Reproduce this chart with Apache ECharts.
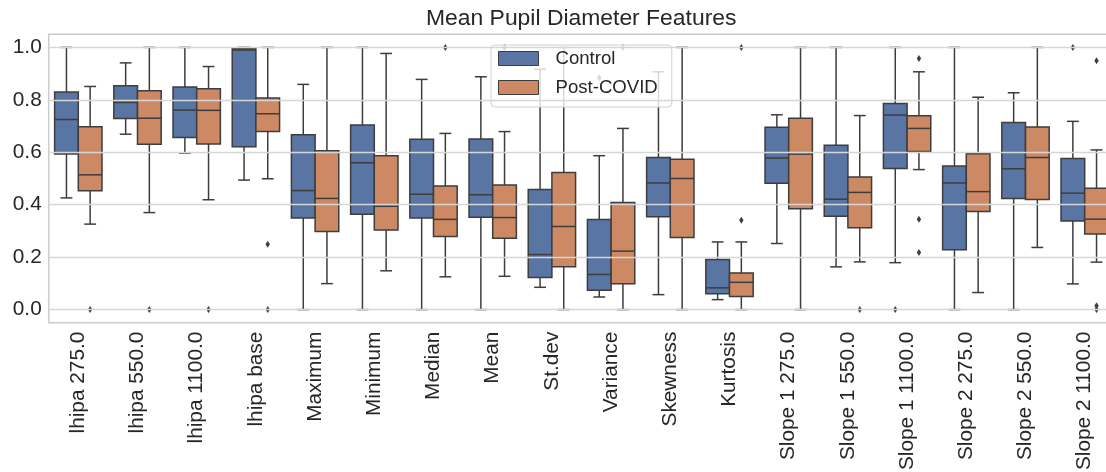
<!DOCTYPE html>
<html>
<head>
<meta charset="utf-8">
<script src="https://cdn.jsdelivr.net/npm/echarts@6/dist/echarts.min.js"></script>
<style>
  html, body { margin: 0; padding: 0; background: #ffffff; }
  #chart { width: 1106px; height: 472px; }
</style>
</head>
<body>
<div id="chart"></div>
<script>
// ---------- data ----------
const categories = [
  'lhipa 275.0', 'lhipa 550.0', 'lhipa 1100.0', 'lhipa base',
  'Maximum', 'Minimum', 'Median', 'Mean', 'St.dev', 'Variance',
  'Skewness', 'Kurtosis', 'Slope 1 275.0', 'Slope 1 550.0',
  'Slope 1 1100.0', 'Slope 2 275.0', 'Slope 2 550.0', 'Slope 2 1100.0'
];
// [lower whisker, Q1, median, Q3, upper whisker]
const controlStats = [
  [0.426, 0.593, 0.725, 0.830, 1.000],
  [0.669, 0.729, 0.790, 0.854, 0.941],
  [0.597, 0.656, 0.761, 0.849, 1.000],
  [0.494, 0.621, 0.990, 0.995, 1.000],
  [0.000, 0.349, 0.454, 0.667, 0.859],
  [0.000, 0.364, 0.560, 0.704, 1.000],
  [0.000, 0.349, 0.440, 0.650, 0.878],
  [0.000, 0.352, 0.438, 0.651, 0.888],
  [0.085, 0.122, 0.210, 0.458, 0.917],
  [0.048, 0.074, 0.134, 0.344, 0.587],
  [0.057, 0.354, 0.483, 0.580, 0.907],
  [0.038, 0.060, 0.083, 0.191, 0.258],
  [0.252, 0.482, 0.578, 0.695, 0.743],
  [0.163, 0.356, 0.421, 0.627, 1.000],
  [0.179, 0.538, 0.742, 0.786, 1.000],
  [0.000, 0.228, 0.483, 0.548, 1.000],
  [0.000, 0.424, 0.537, 0.714, 0.827],
  [0.098, 0.338, 0.444, 0.576, 0.718]
];
const postStats = [
  [0.326, 0.453, 0.514, 0.697, 0.851],
  [0.370, 0.631, 0.730, 0.835, 1.000],
  [0.419, 0.632, 0.760, 0.842, 0.927],
  [0.499, 0.679, 0.747, 0.807, 1.000],
  [0.099, 0.298, 0.424, 0.606, 1.000],
  [0.148, 0.304, 0.394, 0.587, 0.977],
  [0.125, 0.279, 0.344, 0.471, 0.672],
  [0.127, 0.272, 0.351, 0.475, 0.679],
  [0.000, 0.163, 0.317, 0.523, 1.000],
  [0.000, 0.099, 0.223, 0.408, 0.691],
  [0.000, 0.275, 0.500, 0.573, 1.000],
  [0.000, 0.050, 0.104, 0.140, 0.258],
  [0.000, 0.385, 0.593, 0.730, 1.000],
  [0.182, 0.312, 0.447, 0.506, 0.740],
  [0.534, 0.603, 0.691, 0.739, 0.907],
  [0.065, 0.374, 0.450, 0.594, 0.810],
  [0.237, 0.420, 0.580, 0.696, 1.000],
  [0.181, 0.288, 0.345, 0.463, 0.609]
];
// [category index, value]
const controlOutliers = [
  [9, 0.884], [14, 0.000], [17, 1.000]
];
const postOutliers = [
  [0, 0.000], [1, 0.000], [2, 0.000], [3, 0.249], [3, 0.000],
  [6, 1.000], [7, 1.000], [9, 1.000], [11, 0.341], [11, 1.000],
  [13, 0.000], [14, 0.958], [14, 0.345], [14, 0.218],
  [17, 0.949], [17, 0.015], [17, 0.000]
];
const yTicks = [0.0, 0.2, 0.4, 0.6, 0.8, 1.0];
const seriesNames = ['Control', 'Post-COVID'];

// ---------- style ----------
const FONT = '"Liberation Sans", Arial, sans-serif';
const TEXT = '#262626';
const EDGE = '#3d3d3d';
const COLORS = ['#5875a4', '#cc8963'];

function boxRender(side, color) {
  return function (params, api) {
    const idx = api.value(0);
    const band = api.size([1, 0])[0];
    const w = band * 0.4;
    const cx = api.coord([idx, 0])[0];
    const x0 = side < 0 ? cx - w : cx;
    const xm = x0 + w / 2;
    const yv = i => api.coord([idx, api.value(i)])[1];
    const yMin = yv(1), yQ1 = yv(2), yMed = yv(3), yQ3 = yv(4), yMax = yv(5);
    const ls = { stroke: EDGE, lineWidth: 1.5 };
    const capHalf = w / 4;
    return {
      type: 'group',
      children: [
        { type: 'line', shape: { x1: xm, y1: yQ3, x2: xm, y2: yMax }, style: ls },
        { type: 'line', shape: { x1: xm, y1: yQ1, x2: xm, y2: yMin }, style: ls },
        { type: 'line', shape: { x1: xm - capHalf, y1: yMax, x2: xm + capHalf, y2: yMax }, style: ls },
        { type: 'line', shape: { x1: xm - capHalf, y1: yMin, x2: xm + capHalf, y2: yMin }, style: ls },
        { type: 'rect', shape: { x: x0, y: yQ3, width: w, height: yQ1 - yQ3 },
          style: { fill: color, stroke: EDGE, lineWidth: 1.5 } },
        { type: 'line', shape: { x1: x0, y1: yMed, x2: x0 + w, y2: yMed }, style: ls }
      ]
    };
  };
}

function outlierRender(side) {
  return function (params, api) {
    const idx = api.value(0);
    const band = api.size([1, 0])[0];
    const w = band * 0.4;
    const p = api.coord([idx, api.value(1)]);
    const x = p[0] + side * w / 2;
    const y = p[1];
    return {
      type: 'polygon',
      shape: { points: [[x, y - 3.5], [x + 2.2, y], [x, y + 3.5], [x - 2.2, y]] },
      style: { fill: EDGE }
    };
  };
}

const chart = echarts.init(document.getElementById('chart'), null, { renderer: 'canvas' });
chart.setOption({
  animation: false,
  backgroundColor: '#ffffff',
  title: {
    text: 'Mean Pupil Diameter Features',
    left: 426, top: 7, padding: 0,
    textStyle: { fontFamily: FONT, fontSize: 22.9, fontWeight: 'normal', color: TEXT }
  },
  legend: {
    data: seriesNames,
    orient: 'vertical',
    left: 491, top: 45,
    padding: [4, 14, 10, 7],
    itemGap: 10,
    itemWidth: 40, itemHeight: 14,
    icon: 'rect',
    backgroundColor: 'rgba(255,255,255,0.8)',
    borderColor: '#d0d0d0', borderWidth: 1, borderRadius: 4,
    itemStyle: { borderColor: EDGE, borderWidth: 1 },
    textStyle: { fontFamily: FONT, fontSize: 18.6, color: TEXT, padding: [0, 0, 0, 12] }
  },
  grid: {
    left: 48.7, top: 34.3, width: 1065.6, height: 288.4,
    outerBoundsMode: 'none', containLabel: false,
    show: true, borderColor: '#cccccc', borderWidth: 1.5, backgroundColor: 'transparent'
  },
  xAxis: {
    type: 'category',
    data: categories,
    boundaryGap: true,
    axisLine: { show: false },
    axisTick: { show: false },
    splitLine: { show: false },
    axisLabel: {
      rotate: 90, interval: 0, margin: 9,
      fontFamily: FONT, fontSize: 20.8, color: TEXT
    }
  },
  yAxis: {
    type: 'value',
    min: -0.05, max: 1.05, interval: 0.05,
    axisLine: { show: false },
    axisTick: { show: false },
    splitLine: { show: false },
    axisLabel: {
      margin: 7, fontFamily: FONT, fontSize: 20.8, color: TEXT,
      formatter: function (v) {
        const hit = yTicks.some(t => Math.abs(t - v) < 1e-6);
        return hit ? v.toFixed(1) : '';
      }
    }
  },
  series: [
    {
      name: 'grid', type: 'line', data: [], z: 0, silent: true,
      markLine: {
        silent: true, symbol: ['none', 'none'], label: { show: false },
        lineStyle: { color: '#d6d6d6', width: 1.3, type: 'solid' },
        data: yTicks.map(v => ({ yAxis: v }))
      }
    },
    {
      name: seriesNames[0], type: 'custom', z: 2,
      itemStyle: { color: COLORS[0] },
      renderItem: boxRender(-1, COLORS[0]),
      encode: { x: 0, y: [1, 2, 3, 4, 5] },
      data: controlStats.map((s, i) => [i].concat(s))
    },
    {
      name: seriesNames[1], type: 'custom', z: 2,
      itemStyle: { color: COLORS[1] },
      renderItem: boxRender(1, COLORS[1]),
      encode: { x: 0, y: [1, 2, 3, 4, 5] },
      data: postStats.map((s, i) => [i].concat(s))
    },
    {
      name: 'Control outliers', type: 'custom', z: 3,
      renderItem: outlierRender(-1),
      encode: { x: 0, y: 1 },
      data: controlOutliers
    },
    {
      name: 'Post-COVID outliers', type: 'custom', z: 3,
      renderItem: outlierRender(1),
      encode: { x: 0, y: 1 },
      data: postOutliers
    }
  ]
});
</script>
</body>
</html>
